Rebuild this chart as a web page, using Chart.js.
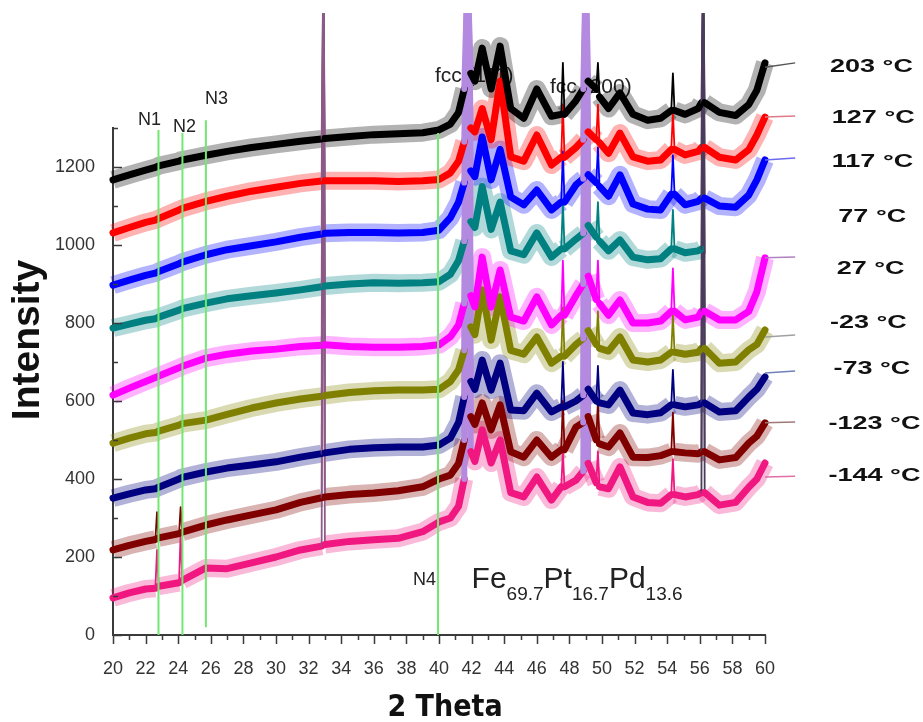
<!DOCTYPE html>
<html>
<head>
<meta charset="utf-8">
<title>Fe69.7Pt16.7Pd13.6 XRD</title>
<script src="https://cdn.jsdelivr.net/npm/chart.js@4.4.1/dist/chart.umd.min.js"></script>
<style>
  html, body { margin: 0; padding: 0; background: #fff; }
</style>
</head>
<body>
<canvas id="xrd-chart" width="923" height="722"></canvas>
<script>
// 2θ positions shared by every scan
const twoTheta = [
  20, 21, 22, 22.6, 22.7, 22.8, 24.05, 24.15, 24.25, 25.7,
  27, 28.5, 30, 31.5, 32.8, 32.9, 33.0, 34.5, 36, 37.5,
  39, 40, 40.7, 41.2, 41.55, 41.75, 41.95, 42.2, 42.65, 43.2,
  43.75, 44.4, 45.2, 46, 46.9, 47.5, 47.6, 47.7, 48.4, 48.85,
  49.0, 49.15, 49.65, 49.75, 49.85, 50.4, 51.1, 51.9, 52.8, 53.6,
  54.25, 54.35, 54.45, 55.1, 55.9, 56.1, 56.2, 56.3, 57.2, 58.2,
  59.0, 59.5, 60
];

// intensity (offset) of each temperature scan
const scan203 = [
  1167, 1180, 1192, 1199, 1201, 1203, 1215, 1217, 1218, 1230,
  1240, 1250, 1258, 1266, 1272, 1700, 1273, 1278, 1283, 1285,
  1288, 1295, 1310, 1340, 1400, 1700, 1440, 1420, 1505, 1400,
  1510, 1350, 1325, 1400, 1330, 1335, 1467, 1335, 1370, 1400,
  1700, 1420, 1400, 1467, 1380, 1350, 1390, 1335, 1320, 1325,
  1345, 1440, 1345, 1335, 1350, 1365, 1700, 1365, 1340, 1332,
  1360, 1397, 1467
];
const scan127 = [
  1031, 1045, 1058, 1064, 1066, 1068, 1090, 1092, 1094, 1112,
  1125, 1138, 1148, 1158, 1164, 1700, 1165, 1165, 1165, 1163,
  1165, 1168, 1185, 1215, 1265, 1700, 1300, 1290, 1350, 1270,
  1420, 1226, 1215, 1282, 1205, 1225, 1360, 1225, 1250, 1270,
  1700, 1290, 1270, 1360, 1262, 1235, 1287, 1226, 1215, 1218,
  1245, 1340, 1245, 1231, 1240, 1250, 1700, 1250, 1225, 1218,
  1244, 1282, 1328
];
const scan117 = [
  897, 910, 922, 928, 930, 932, 952, 954, 956, 975,
  988, 998, 1008, 1020, 1028, 1700, 1030, 1032, 1032, 1031,
  1032, 1038, 1070, 1110, 1160, 1700, 1190, 1175, 1277, 1167,
  1245, 1123, 1103, 1141, 1090, 1110, 1240, 1110, 1154, 1170,
  1700, 1180, 1160, 1250, 1150, 1125, 1180, 1105, 1092, 1090,
  1130, 1230, 1130, 1103, 1112, 1120, 1700, 1120, 1100, 1097,
  1128, 1167, 1218
];
const scan77 = [
  787, 797, 807, 811, 813, 815, 833, 835, 837, 851,
  862, 870, 877, 885, 893, 1700, 895, 900, 903, 902,
  903, 906, 925, 960, 1010, 1700, 1060, 1045, 1150, 1040,
  1110, 985, 975, 1031, 969, 990, 1110, 990, 1015, 1030,
  1700, 1050, 1020, 1110, 1010, 985, 1013, 969, 962, 965,
  990, 1090, 990, 980, 985, 990, 1700, 978, null, null,
  null, null, null
];
const scan27 = [
  615, 633, 650, 660, 662, 664, 685, 687, 689, 710,
  720, 728, 733, 740, 743, 1700, 744, 740, 738, 738,
  740, 744, 765, 795, 850, 1700, 870, 841, 969, 841,
  936, 815, 805, 867, 795, 820, 960, 820, 870, 900,
  1700, 920, 860, 960, 850, 820, 859, 800, 800, 805,
  830, 940, 830, 808, 815, 830, 1700, 830, 808, 808,
  830, 880, 967
];
const scanM23 = [
  492, 505, 516, 519, 521, 523, 538, 540, 542, 551,
  566, 582, 595, 605, 612, 1700, 614, 622, 626, 628,
  628, 630, 650, 680, 730, 1700, 790, 770, 885, 756,
  867, 730, 720, 764, 697, 715, 840, 715, 745, 760,
  1700, 780, 745, 830, 735, 728, 764, 705, 700, 705,
  725, 820, 725, 720, 725, 735, 1700, 735, 697, 700,
  731, 745, 782
];
const scanM73 = [
  351, 362, 372, 375, 377, 379, 400, 402, 404, 418,
  428, 436, 444, 456, 465, 1700, 467, 476, 480, 482,
  482, 487, 505, 545, 610, 1700, 650, 630, 705, 628,
  697, 577, 575, 620, 572, 585, 700, 585, 600, 615,
  1700, 630, 600, 690, 595, 590, 628, 569, 565, 570,
  590, 680, 590, 585, 590, 595, 1700, 595, 572, 575,
  610, 630, 662
];
const scanM123 = [
  218, 230, 240, 245, 315, 249, 260, 328, 264, 282,
  295, 308, 321, 340, 352, 1700, 354, 360, 364, 370,
  380, 400, 410, 440, 500, 1700, 560, 540, 595, 526,
  590, 470, 456, 500, 456, 475, 600, 475, 533, 545,
  1700, 560, 500, 600, 490, 482, 518, 456, 455, 460,
  470, 570, 470, 467, 465, 470, 1700, 470, 449, 455,
  492, 510, 544
];
const scanM144 = [
  95, 108, 118, 120, 218, 125, 134, 262, 140, 172,
  170, 185, 200, 218, 228, 1700, 232, 240, 244, 248,
  265, 290, 300, 330, 400, 1700, 470, 445, 526, 441,
  500, 365, 354, 405, 346, 380, 470, 380, 397, 420,
  1700, 440, 390, 470, 380, 375, 431, 354, 340, 338,
  360, 450, 360, 354, 360, 365, 1700, 365, 333, 340,
  379, 400, 441
];

const tempLabels = ['203 °C', '127 °C', '117 °C', '77 °C', '27 °C', '-23 °C', '-73 °C', '-123 °C', '-144 °C'];
const scans = [scan203, scan127, scan117, scan77, scan27, scanM23, scanM73, scanM123, scanM144];
const scanColors = ['#000000', '#ff0000', '#0000ff', '#008080', '#ff00ff', '#808000', '#000080', '#800000', '#f01880'];

// leader lines from the end of each scan to its temperature label
const leaderX = [60, 61.85];
const leaderFrom = [1456, 1328, 1218, null, 967, 764, 672, 544, 405];
const leaderTo = [1467, 1331, 1223, null, 969, 769, 677, 546, 407];
const leaderColors = ['#555555', '#e07a8a', '#6a6af0', null, '#b080c0', '#a0a0a0', '#7080b8', '#a07878', '#e070a8'];
const tempLabelX = [63.99, 64.1, 64.1, 64.5, 64.4, 63.99, 64.2, 63.9, 63.9];
const tempLabelY = [1456, 1326, 1212, 1072, 938, 800, 682, 541, 408];

// marker lines N1..N4
const markerNames = ['N1', 'N2', 'N3', 'N4'];
const markerPos = [22.79, 24.26, 25.7, 39.94];
const markerBottom = [0, 0, 20, 0];
const markerTop = [1295, 1287, 1320, 1287];
const markerNameX = [21.53, 23.68, 25.64, 38.4];
const markerNameY = [1308, 1290, 1362, 128];

// reflections
const peakNotes = ['fcc (111)', 'fcc (200)'];
const peakNoteX = [39.75, 46.81];
const peakNoteY = [1418, 1390];
const bigPeaks = [32.9, 41.75, 49.0, 56.2];
const bigPeakColors = ['#8c5a86', '#b48ae0', '#b48ae0', '#4c3c5c'];

const formula = [['Fe', false], ['69.7', true], ['Pt', false], ['16.7', true], ['Pd', false], ['13.6', true]];
const formulaX = 42.0;
const formulaY = 120;

const FONT = '"Liberation Sans", Arial, sans-serif';

// indices of narrow spikes (a point standing well above both close neighbours)
function spikeIndices(ys) {
  const s = new Set();
  for (let k = 1; k < ys.length - 1; k++) {
    if (ys[k] === null || ys[k - 1] === null || ys[k + 1] === null) continue;
    const narrow = twoTheta[k + 1] - twoTheta[k - 1] <= 0.41;
    if (narrow && ys[k] - Math.max(ys[k - 1], ys[k + 1]) > 40) s.add(k);
  }
  return s;
}
function fade(hex, a) {
  const n = parseInt(hex.slice(1), 16);
  return `rgba(${n >> 16},${(n >> 8) & 255},${n & 255},${a})`;
}

const datasets = [];
const clipTop = { left: false, top: 115, right: false, bottom: false };

scans.forEach((ys, i) => {
  const pts = twoTheta.map((x, k) => ({ x: x, y: ys[k] }));
  const col = scanColors[i];
  const spikes = spikeIndices(ys);
  const spikeOf = ctx => spikes.has(ctx.p0DataIndex) ? ctx.p0DataIndex
    : spikes.has(ctx.p1DataIndex) ? ctx.p1DataIndex : -1;
  const bigOf = k => bigPeaks.findIndex(p => Math.abs(twoTheta[k] - p) < 0.01);

  // main trace
  datasets.push({
    label: tempLabels[i],
    data: pts,
    borderColor: col,
    borderWidth: 7,
    borderJoinStyle: 'round',
    borderCapStyle: 'round',
    pointRadius: 0,
    tension: 0,
    clip: clipTop,
    order: 2,
    segment: {
      borderWidth: ctx => {
        const k = spikeOf(ctx);
        if (k < 0) return 7;
        const p = bigOf(k);
        return (p === 1 || p === 2) ? 6 : 1.8;
      },
      borderColor: ctx => {
        const k = spikeOf(ctx);
        if (k < 0) return col;
        const p = bigOf(k);
        return p >= 0 ? bigPeakColors[p] : col;
      }
    }
  });
  // soft noise envelope around the trace
  datasets.push({
    label: tempLabels[i] + ' band',
    data: pts,
    borderColor: fade(col, 0.3),
    borderWidth: 18,
    borderJoinStyle: 'round',
    pointRadius: 0,
    tension: 0,
    clip: clipTop,
    order: 3,
    segment: {
      borderColor: ctx => spikeOf(ctx) >= 0 ? 'rgba(0,0,0,0)' : fade(col, 0.3)
    }
  });
  if (leaderFrom[i] !== null) {
    datasets.push({
      label: tempLabels[i] + ' leader',
      data: [{ x: leaderX[0], y: leaderFrom[i] }, { x: leaderX[1], y: leaderTo[i] }],
      borderColor: leaderColors[i],
      borderWidth: 1.5,
      pointRadius: 0,
      clip: false,
      order: 1
    });
  }
});

markerNames.forEach((name, i) => {
  datasets.push({
    label: name,
    data: [{ x: markerPos[i], y: markerBottom[i] }, { x: markerPos[i], y: markerTop[i] }],
    borderColor: '#72e872',
    borderWidth: 2,
    pointRadius: 0,
    clip: false,
    order: 0
  });
});

const notes = {
  id: 'xrdNotes',
  beforeDatasetsDraw(chart) {
    const { ctx, scales: { x, y } } = chart;
    ctx.save();
    ctx.fillStyle = '#222';
    ctx.textAlign = 'left';
    ctx.textBaseline = 'alphabetic';

    ctx.font = '21px ' + FONT;
    peakNotes.forEach((t, i) => ctx.fillText(t, x.getPixelForValue(peakNoteX[i]), y.getPixelForValue(peakNoteY[i])));

    ctx.font = '18px ' + FONT;
    markerNames.forEach((t, i) => ctx.fillText(t, x.getPixelForValue(markerNameX[i]), y.getPixelForValue(markerNameY[i])));

    // alloy composition with subscripts
    let fx = x.getPixelForValue(formulaX);
    const fy = y.getPixelForValue(formulaY);
    formula.forEach(([t, sub]) => {
      ctx.font = (sub ? '19px ' : '30px ') + FONT;
      ctx.fillText(t, fx, sub ? fy + 12 : fy);
      fx += ctx.measureText(t).width;
    });
    ctx.restore();
  },
  afterDraw(chart) {
    const { ctx, chartArea: area, scales: { x, y } } = chart;
    ctx.save();

    // tick marks: x outward, y inward, with minor ticks
    ctx.strokeStyle = '#3a3a3a';
    ctx.lineWidth = 1.5;
    ctx.beginPath();
    for (let v = x.min; v <= x.max; v += 1) {
      const px = Math.round(x.getPixelForValue(v)) + 0.5;
      ctx.moveTo(px, area.bottom);
      ctx.lineTo(px, area.bottom + (v % 2 === 0 ? 9 : 5));
    }
    for (let v = y.min; v <= y.max; v += 100) {
      const py = Math.round(y.getPixelForValue(v)) + 0.5;
      ctx.moveTo(area.left, py);
      ctx.lineTo(area.left + (v % 200 === 0 ? 9 : 5), py);
    }
    ctx.stroke();

    // temperature labels
    ctx.fillStyle = '#111';
    ctx.textBaseline = 'middle';
    ctx.font = 'bold 18px ' + FONT;
    tempLabels.forEach((t, i) => {
      ctx.save();
      ctx.translate(x.getPixelForValue(tempLabelX[i]), y.getPixelForValue(tempLabelY[i]));
      ctx.scale(1.5, 1);
      ctx.fillText(t, 0, 0);
      ctx.restore();
    });

    // axis titles
    ctx.textAlign = 'center';
    ctx.save();
    ctx.translate(28, 340);
    ctx.rotate(-Math.PI / 2);
    ctx.font = 'bold 39px ' + FONT;
    ctx.fillText('Intensity', 0, 0);
    ctx.restore();

    ctx.font = 'bold 30px "DejaVu Sans Condensed", "Liberation Sans Narrow", sans-serif';
    ctx.fillText('2 Theta', 445, 708);
    ctx.restore();
  }
};

new Chart(document.getElementById('xrd-chart'), {
  type: 'line',
  data: { datasets: datasets },
  plugins: [notes],
  options: {
    responsive: false,
    animation: false,
    events: [],
    layout: { padding: { top: 128, right: 158, left: 0, bottom: 0 } },
    plugins: { legend: { display: false }, tooltip: { enabled: false } },
    scales: {
      x: {
        type: 'linear',
        min: 20,
        max: 60,
        grid: { display: false },
        border: { display: true, color: '#3a3a3a', width: 2 },
        ticks: { stepSize: 2, autoSkip: false, maxRotation: 0, padding: 15, color: '#333', font: { size: 18, family: FONT } },
        afterFit(scale) { scale.height = 87; }
      },
      y: {
        min: 0,
        max: 1300,
        grid: { display: false },
        border: { display: true, color: '#3a3a3a', width: 2 },
        ticks: {
          stepSize: 200, padding: 10, color: '#333', font: { size: 18, family: FONT },
          callback: v => (v % 200 === 0 ? v : '')
        },
        afterFit(scale) { scale.width = 113; }
      }
    }
  }
});
</script>
</body>
</html>
